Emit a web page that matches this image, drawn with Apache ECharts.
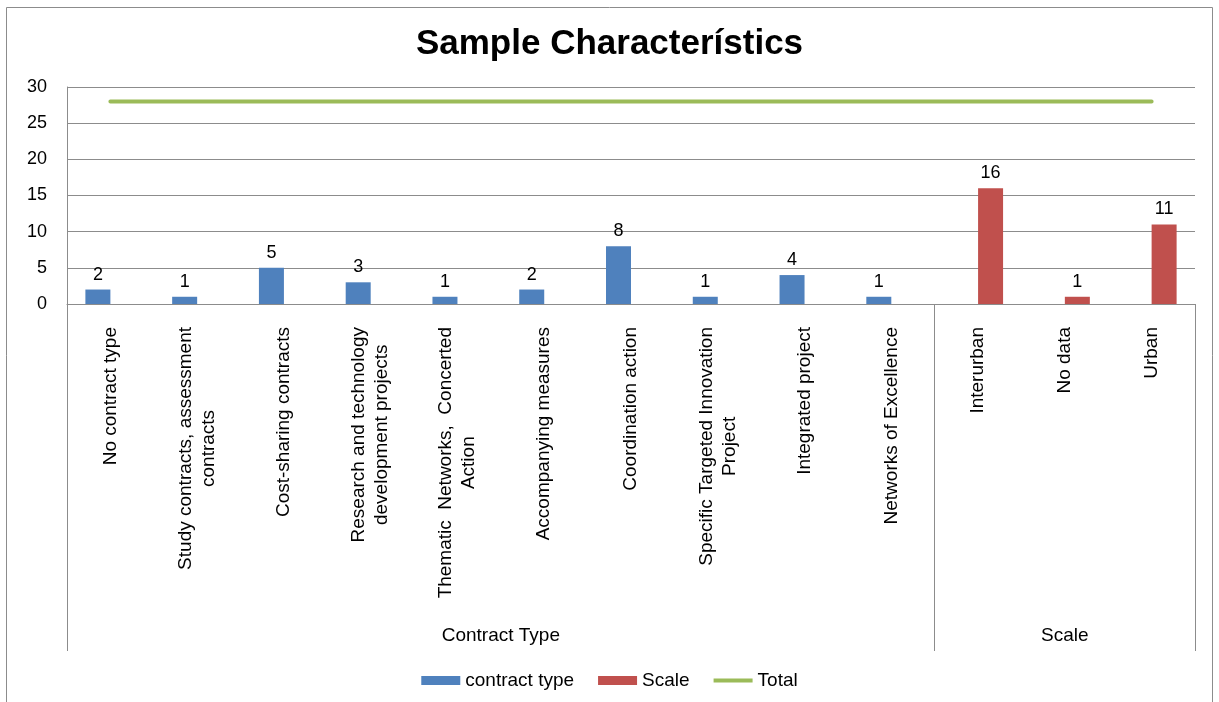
<!DOCTYPE html>
<html>
<head>
<meta charset="utf-8">
<title>Sample Characterístics</title>
<script src="https://cdn.jsdelivr.net/npm/echarts@6/dist/echarts.min.js"></script>
<style>
  html, body { margin: 0; padding: 0; background: #fff; }
  #chart { width: 1219px; height: 702px; }
</style>
</head>
<body>
<div id="chart"></div>
<script>
// Categories along the bottom axis (line breaks mark wrapped labels)
const categories = [
  'No contract type',
  'Study contracts, assessment\ncontracts',
  'Cost-sharing contracts',
  'Research and technology\ndevelopment projects',
  'Thematic  Networks,  Concerted\nAction',
  'Accompanying measures',
  'Coordination action',
  'Specific Targeted Innovation\nProject',
  'Integrated project',
  'Networks of Excellence',
  'Interurban',
  'No data',
  'Urban'
];

// Counts per category; null where the series has no bar
const contractTypeValues = [2, 1, 5, 3, 1, 2, 8, 1, 4, 1, null, null, null];
const scaleValues = [null, null, null, null, null, null, null, null, null, null, 16, 1, 11];
const totalValues = [28, 28, 28, 28, 28, 28, 28, 28, 28, 28, 28, 28, 28];

// Category groups: name, first index, count
const groups = [
  { name: 'Contract Type', start: 0, count: 10 },
  { name: 'Scale', start: 10, count: 3 }
];

const yTicks = { min: 0, max: 30, step: 5 };

const FONT = '"Liberation Sans", Arial, sans-serif';
const GRID_COLOR = '#8c8c8c';

// group boundaries and group centres on a 0..N value scale
const groupEdges = [0].concat(groups.map(g => g.start + g.count));
const groupCenters = groups.map(g => g.start + g.count / 2);

// legend swatch for the total line: a 4px band in a 39x9 box
const LINE_ICON = 'path://M0,0L0,0ZM0,2.5L39,2.5L39,6.5L0,6.5ZM39,9L39,9Z';

const chart = echarts.init(document.getElementById('chart'), null, { renderer: 'canvas' });

chart.setOption({
  animation: false,
  backgroundColor: '#fff',
  textStyle: { fontFamily: FONT },
  title: {
    text: 'Sample Characterístics',
    left: 'center',
    top: 22,
    textStyle: { fontFamily: FONT, fontSize: 35, fontWeight: 'bold', color: '#000' }
  },
  legend: {
    bottom: 7,
    left: 'center',
    itemWidth: 39,
    itemHeight: 9,
    itemGap: 24,
    textStyle: { fontFamily: FONT, fontSize: 19, color: '#000' },
    data: [
      { name: 'contract type', icon: 'rect' },
      { name: 'Scale', icon: 'rect' },
      { name: 'Total', icon: LINE_ICON, itemStyle: { color: '#9BBB59', borderWidth: 0 } }
    ]
  },
  grid: {
    left: 67,
    right: 24,
    top: 87,
    bottom: 398,
    containLabel: false,
    outerBoundsMode: 'none'
  },
  xAxis: [
    {
      type: 'category',
      data: categories,
      boundaryGap: true,
      axisLine: { show: true, lineStyle: { color: GRID_COLOR, width: 1 } },
      axisTick: { show: false },
      axisLabel: {
        interval: 0,
        rotate: 90,
        margin: 23,
        color: '#000',
        fontFamily: FONT,
        fontSize: 19,
        formatter: function (v) {
          return v.split('\n').map(s => '{c|' + s + '}').join('\n');
        },
        rich: {
          c: { align: 'center', fontFamily: FONT, fontSize: 19, lineHeight: 23, color: '#000' }
        }
      }
    },
    {
      // group separators and group names below the category labels
      type: 'value',
      position: 'bottom',
      min: 0,
      max: categories.length,
      axisLine: { show: false },
      splitLine: { show: false },
      axisTick: {
        show: true,
        customValues: groupEdges,
        length: 347,
        lineStyle: { color: GRID_COLOR, width: 1 }
      },
      axisLabel: {
        show: true,
        customValues: groupCenters,
        margin: 322,
        color: '#000',
        fontFamily: FONT,
        fontSize: 19,
        formatter: function (v) {
          const g = groups.find(gr => Math.abs(gr.start + gr.count / 2 - v) < 1e-6);
          return g ? g.name : '';
        }
      }
    }
  ],
  yAxis: {
    type: 'value',
    min: yTicks.min,
    max: yTicks.max,
    interval: yTicks.step,
    axisLine: { show: true, lineStyle: { color: GRID_COLOR, width: 1 } },
    axisTick: { show: false },
    splitLine: { show: true, lineStyle: { color: GRID_COLOR, width: 1 } },
    axisLabel: { margin: 20, color: '#000', fontFamily: FONT, fontSize: 18 }
  },
  series: [
    {
      name: 'contract type',
      type: 'bar',
      xAxisIndex: 0,
      data: contractTypeValues,
      barWidth: 25,
      barGap: '0%',
      itemStyle: { color: '#4F81BD' },
      label: {
        show: true,
        position: 'top',
        distance: 6,
        color: '#000',
        fontFamily: FONT,
        fontSize: 18
      }
    },
    {
      name: 'Scale',
      type: 'bar',
      xAxisIndex: 0,
      data: scaleValues,
      barWidth: 25,
      barGap: '0%',
      itemStyle: { color: '#C0504D' },
      label: {
        show: true,
        position: 'top',
        distance: 6,
        color: '#000',
        fontFamily: FONT,
        fontSize: 18
      }
    },
    {
      name: 'Total',
      type: 'line',
      xAxisIndex: 0,
      data: totalValues,
      symbol: 'none',
      showSymbol: false,
      lineStyle: { color: '#9BBB59', width: 4, cap: 'round' },
      itemStyle: { color: '#9BBB59' },
      z: 3
    }
  ],
  graphic: [
    {
      type: 'rect',
      silent: true,
      shape: { x: 6.5, y: 7.5, width: 1206, height: 730 },
      style: { fill: 'none', stroke: GRID_COLOR, lineWidth: 1 }
    }
  ]
});
</script>
</body>
</html>
